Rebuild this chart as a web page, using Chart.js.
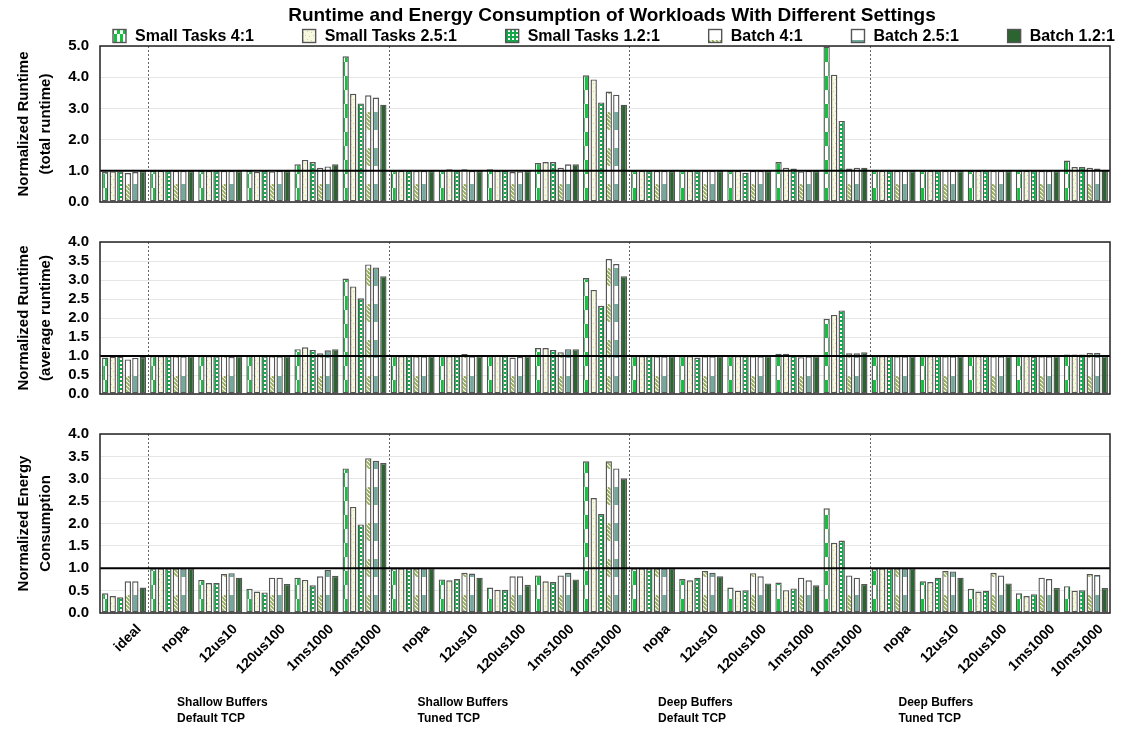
<!DOCTYPE html>
<html>
<head>
<meta charset="utf-8">
<script src="https://cdn.jsdelivr.net/npm/chart.js@4.4.1/dist/chart.umd.min.js"></script>
<style>
body{margin:0;background:#fff;}
#wrap{position:relative;width:1127px;height:735px;}
.box{position:absolute;left:0;}
#title{position:absolute;top:3px;left:100px;width:1024px;text-align:center;font:bold 19px "Liberation Sans",Arial,sans-serif;line-height:24px;color:#000;}
</style>
</head>
<body>
<div id="wrap">
  <div class="box" style="top:0"><canvas id="c1" width="1127" height="222"></canvas></div>
  <div class="box" style="top:222px"><canvas id="c2" width="1127" height="192"></canvas></div>
  <div class="box" style="top:414px"><canvas id="c3" width="1127" height="321"></canvas></div>
  <div id="title">Runtime and Energy Consumption of Workloads With Different Settings</div>
</div>
<script>
const settings = ['nopa', '12us10', '120us100', '1ms1000', '10ms1000'];
const categories = ['ideal'].concat(settings, settings, settings, settings);
const groupLabels = [
  ['Shallow Buffers', 'Default TCP'],
  ['Shallow Buffers', 'Tuned TCP'],
  ['Deep Buffers', 'Default TCP'],
  ['Deep Buffers', 'Tuned TCP']
];
const seriesNames = ['Small Tasks 4:1', 'Small Tasks 2.5:1', 'Small Tasks 1.2:1', 'Batch 4:1', 'Batch 2.5:1', 'Batch 1.2:1'];

// normalized runtime (total runtime)
const totSmall41 = [0.96, 1, 1, 1.0, 1.21, 4.67, 1, 1.0, 1.05, 1.25, 4.06, 1, 1, 1, 1.28, 4.98, 1, 1, 1, 1, 1.33];
const totSmall25 = [0.98, 1, 1, 0.97, 1.35, 3.47, 1, 1.05, 1.0, 1.28, 3.93, 1, 1, 1, 1.10, 4.08, 1, 1, 1, 1, 1.12];
const totSmall12 = [0.98, 1, 1, 1.0, 1.28, 3.16, 1, 1.0, 1.0, 1.28, 3.19, 1, 1, 0.94, 1.07, 2.60, 1, 1, 1, 1, 1.12];
const totBatch41 = [0.93, 1, 1, 0.98, 1.10, 3.42, 1, 1.05, 0.96, 1.10, 3.54, 1, 1, 1, 0.98, 1.07, 1, 1, 1, 1, 1.10];
const totBatch25 = [0.96, 1, 1, 1.0, 1.14, 3.35, 1, 1.0, 0.98, 1.21, 3.44, 1, 1, 1, 1.0, 1.10, 1, 1, 1, 1, 1.07];
const totBatch12 = [1.0, 1, 1, 1, 1.21, 3.12, 1, 1, 1, 1.21, 3.12, 1, 1, 1, 1, 1.10, 1, 1, 1, 1, 1.03];

// normalized runtime (average runtime)
const avgSmall41 = [0.96, 1, 1, 1, 1.18, 3.04, 1, 1, 1, 1.21, 3.05, 1, 1, 1, 1.06, 1.98, 1, 1, 1, 1, 1.04];
const avgSmall25 = [0.98, 1, 1, 1.02, 1.23, 2.83, 1, 1, 1.02, 1.21, 2.74, 1, 1, 1, 1.06, 2.08, 1, 1, 1, 1, 1.04];
const avgSmall12 = [0.98, 1, 1, 1, 1.16, 2.52, 1, 1, 1, 1.16, 2.32, 1, 0.96, 1, 1.02, 2.20, 1, 1, 1, 0.98, 1.04];
const avgBatch41 = [0.91, 1, 1.02, 1, 1.07, 3.41, 1, 1.05, 0.96, 1.10, 3.55, 1, 1, 1, 0.97, 1.07, 1, 1, 1, 1, 1.08];
const avgBatch25 = [0.95, 1, 0.98, 1, 1.15, 3.33, 1, 1, 0.98, 1.18, 3.42, 1, 1, 1, 1, 1.07, 1, 1, 1, 1, 1.08];
const avgBatch12 = [0.98, 1, 1, 1, 1.18, 3.10, 1, 1, 1, 1.18, 3.10, 1, 1, 1, 1, 1.10, 1, 1, 1, 1, 1.0];

// normalized energy consumption
const engSmall41 = [0.44, 1, 0.74, 0.54, 0.79, 3.23, 1, 0.75, 0.57, 0.84, 3.39, 1, 0.76, 0.57, 0.68, 2.34, 1, 0.71, 0.54, 0.44, 0.60];
const engSmall25 = [0.38, 1, 0.67, 0.48, 0.74, 2.37, 1, 0.73, 0.52, 0.71, 2.57, 1, 0.73, 0.50, 0.51, 1.57, 1, 0.69, 0.48, 0.38, 0.50];
const engSmall12 = [0.35, 1, 0.67, 0.46, 0.62, 1.98, 1, 0.76, 0.52, 0.69, 2.21, 1, 0.79, 0.51, 0.55, 1.62, 1, 0.79, 0.50, 0.42, 0.51];
const engBatch41 = [0.71, 1, 0.87, 0.79, 0.82, 3.46, 1, 0.90, 0.82, 0.84, 3.39, 1, 0.94, 0.89, 0.79, 0.84, 1, 0.94, 0.90, 0.79, 0.87];
const engBatch25 = [0.71, 1, 0.89, 0.79, 0.96, 3.40, 1, 0.88, 0.82, 0.90, 3.23, 1, 0.90, 0.82, 0.73, 0.79, 1, 0.93, 0.84, 0.76, 0.85];
const engBatch12 = [0.57, 1, 0.79, 0.65, 0.83, 3.35, 1, 0.79, 0.63, 0.75, 3.01, 1, 0.82, 0.66, 0.62, 0.65, 1, 0.79, 0.66, 0.56, 0.56];

const groupStarts = [1, 6, 11, 16];
const FONT = '"Liberation Sans", Arial, sans-serif';

Chart.defaults.font.family = FONT;
Chart.defaults.color = '#000';

function makePatterns() {
  function make(w, h, draw) {
    const c = document.createElement('canvas');
    c.width = w; c.height = h;
    const g = c.getContext('2d');
    draw(g);
    return g.createPattern(c, 'repeat');
  }
  return [
    make(6, 28, g => {
      g.fillStyle = '#fff'; g.fillRect(0, 0, 6, 28);
      g.fillStyle = '#12c23e'; g.fillRect(0, 0, 3, 14); g.fillRect(3, 14, 3, 14);
    }),
    make(8, 8, g => {
      g.fillStyle = '#f8f8e0'; g.fillRect(0, 0, 8, 8);
      g.fillStyle = '#c6daa0';
      [[1, 1], [5, 2], [3, 5], [7, 6]].forEach(p => g.fillRect(p[0], p[1], 1, 1));
    }),
    make(4, 4, g => {
      g.fillStyle = '#14a84a'; g.fillRect(0, 0, 4, 4);
      g.fillStyle = '#fff'; g.fillRect(0, 0, 2, 2);
    }),
    make(8, 36, g => {
      g.fillStyle = '#fff'; g.fillRect(0, 0, 8, 36);
      g.save();
      g.beginPath(); g.rect(0, 18, 8, 18); g.clip();
      g.strokeStyle = '#93b052'; g.lineWidth = 1.6;
      for (let k = -40; k <= 40; k += 4) {
        g.beginPath(); g.moveTo(k, 18); g.lineTo(k + 18, 36); g.stroke();
      }
      g.restore();
    }),
    make(8, 36, g => {
      g.fillStyle = '#fff'; g.fillRect(0, 0, 8, 36);
      g.fillStyle = '#72aa9c'; g.fillRect(0, 18, 8, 18);
    }),
    '#2c6431'
  ];
}

const decor = {
  id: 'decor',
  afterLayout(chart) {
    const b = chart.chartArea.bottom;
    chart.data.datasets.forEach(ds => {
      if (ds.backgroundColor instanceof CanvasPattern) {
        ds.backgroundColor.setTransform(new DOMMatrix([1, 0, 0, 1, 0, b]));
      }
    });
  },
  beforeDatasetsDraw(chart) {
    const {ctx, chartArea: a, scales: {x}} = chart;
    ctx.save();
    ctx.strokeStyle = '#666';
    ctx.lineWidth = 1;
    ctx.setLineDash([2, 2]);
    groupStarts.forEach(i => {
      const px = Math.round((x.getPixelForValue(i - 1) + x.getPixelForValue(i)) / 2) + 0.5;
      ctx.beginPath(); ctx.moveTo(px, a.top); ctx.lineTo(px, a.bottom); ctx.stroke();
    });
    ctx.restore();
  },
  afterDatasetsDraw(chart) {
    const {ctx, chartArea: a, scales: {y}} = chart;
    const y1 = y.getPixelForValue(1);
    ctx.save();
    ctx.strokeStyle = '#000';
    ctx.lineWidth = 2;
    ctx.beginPath(); ctx.moveTo(a.left, y1); ctx.lineTo(a.right, y1); ctx.stroke();
    ctx.strokeStyle = '#222';
    ctx.lineWidth = 1.5;
    ctx.strokeRect(a.left, a.top, a.right - a.left, a.bottom - a.top);
    ctx.restore();
  },
  afterDraw(chart, args, opts) {
    const {ctx, chartArea: a, scales: {x}} = chart;
    ctx.save();
    ctx.fillStyle = '#000';
    ctx.textAlign = 'left';
    ctx.textBaseline = 'middle';
    if (opts.legend) {
      // legend row spread between x0 and x1 like the original figure
      const x0 = 113, x1 = 1115, yc = 36, box = 13, gapText = 9;
      ctx.font = 'bold 16px ' + FONT;
      const widths = chart.data.datasets.map(ds => ctx.measureText(ds.label).width);
      const used = widths.reduce((s, w) => s + w + box + gapText, 0);
      const gap = (x1 - x0 - used) / (widths.length - 1);
      let cx = x0;
      chart.data.datasets.forEach((ds, i) => {
        ctx.fillStyle = ds.backgroundColor;
        ctx.fillRect(cx, yc - box / 2, box, box);
        ctx.strokeStyle = '#555';
        ctx.lineWidth = 1.4;
        ctx.strokeRect(cx, yc - box / 2, box, box);
        ctx.fillStyle = '#000';
        ctx.fillText(ds.label, cx + box + gapText, yc + 1);
        cx += box + gapText + widths[i] + gap;
      });
    }
    if (opts.groups) {
      ctx.font = 'bold 12px ' + FONT;
      groupStarts.forEach((i, g) => {
        const left = (x.getPixelForValue(i - 1) + x.getPixelForValue(i)) / 2;
        ctx.fillText(groupLabels[g][0], left + 29, a.bottom + 90);
        ctx.fillText(groupLabels[g][1], left + 29, a.bottom + 106);
      });
    }
    ctx.restore();
  }
};

function makeChart(id, series, yMax, yTitle, opts) {
  const patterns = makePatterns();
  return new Chart(document.getElementById(id), {
    type: 'bar',
    data: {
      labels: categories,
      datasets: series.map((d, i) => ({
        label: seriesNames[i],
        data: d,
        backgroundColor: patterns[i],
        borderColor: '#555',
        borderWidth: 1.4,
        borderSkipped: false,
        categoryPercentage: 0.94,
        barPercentage: 0.84
      }))
    },
    options: {
      responsive: false,
      animation: false,
      layout: {padding: {top: opts.top, left: 0, right: 17, bottom: 0}},
      plugins: {
        tooltip: {enabled: false},
        title: {display: false},
        legend: {display: false},
        decor: {groups: !!opts.groups, legend: !!opts.legend}
      },
      scales: {
        x: {
          grid: {display: false},
          border: {display: false},
          ticks: opts.groups ? {
            display: true,
            autoSkip: false,
            maxRotation: 45,
            minRotation: 45,
            labelOffset: 15,
            padding: 0,
            font: {size: 14, weight: 'bold'},
            color: '#000'
          } : {display: false},
          afterFit: s => { s.height = opts.xHeight; }
        },
        y: {
          min: 0,
          max: yMax,
          border: {display: false},
          grid: {color: '#e6e6e6', lineWidth: 1, drawTicks: false},
          ticks: {
            stepSize: 0.5,
            padding: 11,
            font: {size: 15, weight: 'bold'},
            color: '#000',
            callback: v => (opts.halfLabels || Number.isInteger(v)) ? v.toFixed(1) : ''
          },
          title: {
            display: true,
            text: yTitle,
            font: {size: 15, weight: 'bold', lineHeight: 1.45},
            padding: {top: 13, bottom: 0},
            color: '#000'
          },
          afterFit: s => { s.width = 100; }
        }
      }
    },
    plugins: [decor]
  });
}

makeChart('c1', [totSmall41, totSmall25, totSmall12, totBatch41, totBatch25, totBatch12], 5,
  ['Normalized Runtime', '(total runtime)'], {top: 46, legend: true, xHeight: 3, halfLabels: false});
makeChart('c2', [avgSmall41, avgSmall25, avgSmall12, avgBatch41, avgBatch25, avgBatch12], 4,
  ['Normalized Runtime', '(average runtime)'], {top: 17, xHeight: 3, halfLabels: true});
makeChart('c3', [engSmall41, engSmall25, engSmall12, engBatch41, engBatch25, engBatch12], 4,
  ['Normalized Energy', 'Consumption'], {top: 17, xHeight: 122, halfLabels: true, groups: true});
</script>
</body>
</html>
